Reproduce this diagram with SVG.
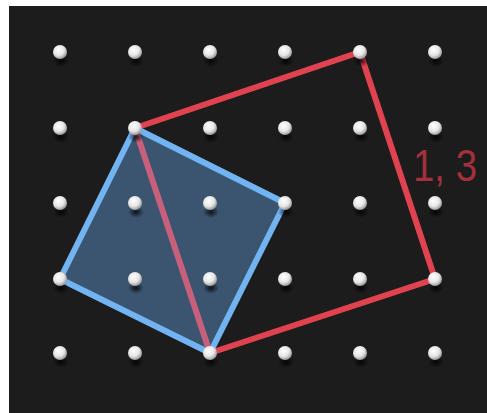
<svg xmlns="http://www.w3.org/2000/svg" width="487" height="413" viewBox="0 0 487 413">
<defs>
<radialGradient id="peg" cx="0.4" cy="0.35" r="0.65">
<stop offset="0" stop-color="#ffffff"/>
<stop offset="0.6" stop-color="#e6e6e6"/>
<stop offset="1" stop-color="#9a9a9a"/>
</radialGradient>
<radialGradient id="shadow" cx="0.5" cy="0.5" r="0.5">
<stop offset="0" stop-color="#000" stop-opacity="0.8"/>
<stop offset="1" stop-color="#000" stop-opacity="0"/>
</radialGradient>
<g id="p">
<ellipse cx="1" cy="9" rx="8" ry="6" fill="url(#shadow)"/>
<circle r="7" fill="url(#peg)"/>
</g>
</defs>
<style>
.red{fill:none;stroke:#e0424f;stroke-width:6;stroke-linejoin:round;stroke-linecap:round}
.blue{fill:#45688c;fill-opacity:0.75;stroke:#72b4f2;stroke-width:6;stroke-linejoin:round}
.diag{stroke:#c8607c;stroke-width:6;stroke-linecap:round}
.lbl{font-family:"Liberation Sans",Arial,sans-serif;font-size:44px;fill:#a3303a}
</style>
<rect x="0" y="0" width="487" height="413" fill="#ffffff"/>
<rect x="9" y="6" width="478" height="407" fill="#1c1c1c"/>
<g id="pegs">
<use href="#p" x="60" y="52"/><use href="#p" x="135" y="52"/><use href="#p" x="210" y="52"/><use href="#p" x="285" y="52"/><use href="#p" x="435" y="52"/>
<use href="#p" x="60" y="128"/><use href="#p" x="210" y="128"/><use href="#p" x="285" y="128"/><use href="#p" x="360" y="128"/><use href="#p" x="435" y="128"/>
<use href="#p" x="60" y="203"/><use href="#p" x="360" y="203"/><use href="#p" x="435" y="203"/>
<use href="#p" x="285" y="279"/><use href="#p" x="360" y="279"/>
<use href="#p" x="60" y="353"/><use href="#p" x="135" y="353"/><use href="#p" x="285" y="353"/><use href="#p" x="360" y="353"/><use href="#p" x="435" y="353"/>
</g>
<g id="connectors">
<polyline class="red" points="135,128 360,52 435,279 210,353"/>
<polygon class="blue" points="135,128 285,203 210,353 60,279"/>
<line class="diag" x1="135" y1="128" x2="210" y2="353"/>
</g>
<g id="inner-pegs">
<use href="#p" x="135" y="203"/><use href="#p" x="210" y="203"/>
<use href="#p" x="135" y="279"/><use href="#p" x="210" y="279"/>
<use href="#p" x="135" y="128"/><use href="#p" x="285" y="203"/><use href="#p" x="60" y="279"/><use href="#p" x="210" y="353"/><use href="#p" x="435" y="279"/><use href="#p" x="360" y="52"/>
</g>
<g id="label">
<text class="lbl" x="413" y="181" textLength="64" lengthAdjust="spacingAndGlyphs">1, 3</text>
</g>
</svg>
